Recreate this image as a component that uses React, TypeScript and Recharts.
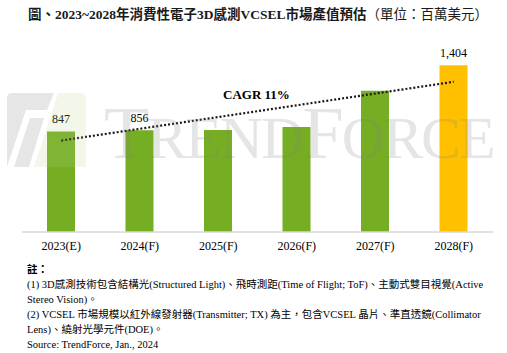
import { ComposedChart, Bar, Line, Cell, XAxis, YAxis, LabelList } from "recharts";

const years = ["2023(E)", "2024(F)", "2025(F)", "2026(F)", "2027(F)", "2028(F)"];
const marketValues = [847, 856, 860, 885, 1190, 1404];
const valueLabels = ["847", "856", null, null, null, "1,404"];
// dotted trend line: only the two ends are drawn
const trendValues = [770, null, null, null, null, 1265];
const barColors = ["#75AE23", "#75AE23", "#75AE23", "#75AE23", "#75AE23", "#FFC000"];

const FONT = "'Liberation Serif', 'Times New Roman', 'Noto Sans CJK TC', serif";

const data = years.map((year, i) => ({
  year,
  value: marketValues[i],
  label: valueLabels[i],
  trend: trendValues[i],
}));

function Watermark() {
  return (
    <svg
      width={507}
      height={260}
      style={{ position: "absolute", left: 0, top: 0, pointerEvents: "none" }}
    >
      {/* logo */}
      <path d="M12,93 L54,93 L47,110 L26,110 L7,167 L7,98 Q7,93 12,93 Z" fill="#808080" opacity={0.2} />
      <polygon points="30,118 44,118 29,167 14,167" fill="#808080" opacity={0.2} />
      <path d="M58,93 L80,93 Q86,93 86,99 L86,167 L34,167 Z" fill="#B5D58A" opacity={0.18} />
      <text
        x={104}
        y={158}
        fill="#808080"
        opacity={0.2}
        fontFamily="'Liberation Serif', 'Times New Roman', serif"
        letterSpacing={-2}
      >
        <tspan fontSize={74}>T</tspan>
        <tspan fontSize={60}>REND</tspan>
        <tspan fontSize={74}>F</tspan>
        <tspan fontSize={60}>ORCE</tspan>
      </text>
    </svg>
  );
}

export default function App() {
  return (
    <div
      style={{
        position: "absolute",
        left: 0,
        top: 0,
        width: 507,
        height: 353,
        background: "#fff",
        fontFamily: FONT,
        color: "#000",
        overflow: "hidden",
      }}
    >
      {/* Title */}
      <div
        style={{
          position: "absolute",
          left: 28,
          top: 6,
          fontSize: 13.5,
          lineHeight: "18px",
          whiteSpace: "nowrap",
          color: "#1a1a1a",
        }}
      >
        <span style={{ fontWeight: "bold" }}>圖、2023~2028年消費性電子3D感測VCSEL市場產值預估</span>
        <span>（單位：百萬美元）</span>
      </div>

      <div style={{ position: "absolute", left: 0, top: 0 }}>
        <ComposedChart
          width={507}
          height={262}
          data={data}
          margin={{ top: 42, right: 14, bottom: 0, left: 22 }}
        >
          <XAxis
            dataKey="year"
            height={30}
            tickLine={false}
            axisLine={{ stroke: "#D9D9D9", strokeWidth: 1.5 }}
            tickMargin={3}
            tick={{ fontSize: 12, fill: "#000", fontFamily: FONT }}
          />
          <YAxis hide domain={[0, 1600]} />
          <Bar dataKey="value" barSize={28} isAnimationActive={false}>
            {data.map((d, i) => (
              <Cell key={d.year} fill={barColors[i]} />
            ))}
            <LabelList
              dataKey="label"
              position="top"
              offset={8}
              style={{ fontSize: 12, fill: "#000", fontFamily: FONT }}
            />
          </Bar>
          <Line
            type="linear"
            dataKey="trend"
            stroke="#1a1a1a"
            strokeWidth={2.2}
            strokeDasharray="2 2"
            dot={false}
            connectNulls
            isAnimationActive={false}
          />
        </ComposedChart>
      </div>

      <Watermark />

      {/* CAGR annotation */}
      <div
        style={{
          position: "absolute",
          left: 223,
          top: 86,
          fontSize: 13,
          fontWeight: "bold",
          lineHeight: "18px",
          whiteSpace: "nowrap",
        }}
      >
        CAGR 11%
      </div>

      {/* Notes */}
      <div
        style={{
          position: "absolute",
          left: 27,
          top: 262,
          fontSize: 10.5,
          lineHeight: "15px",
          whiteSpace: "nowrap",
          color: "#000",
        }}
      >
        <div style={{ fontWeight: "bold" }}>註：</div>
        <div>(1) 3D感測技術包含結構光(Structured Light)、飛時測距(Time of Flight; ToF)、主動式雙目視覺(Active</div>
        <div>Stereo Vision)。</div>
        <div>(2) VCSEL 市場規模以紅外線發射器(Transmitter; TX) 為主，包含VCSEL 晶片、準直透鏡(Collimator</div>
        <div>Lens)、繞射光學元件(DOE)。</div>
        <div>Source: TrendForce, Jan., 2024</div>
      </div>
    </div>
  );
}
